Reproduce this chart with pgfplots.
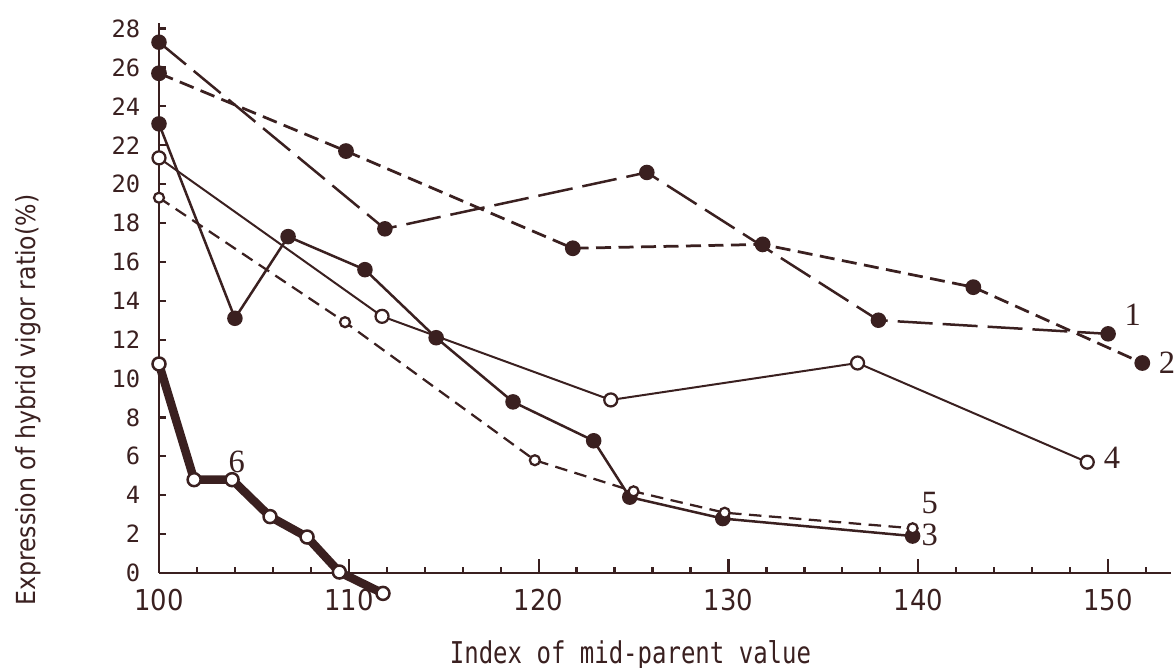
\documentclass[border=0pt]{standalone}
\usepackage{fontspec}
\setmainfont{Liberation Serif}
\newfontfamily\monof{DejaVu Sans Mono}
\newfontfamily\condf{DejaVu Sans Condensed}
\usepackage{pgfplots}
\pgfplotsset{compat=1.18}
\usetikzlibrary{calc}
\definecolor{ink}{RGB}{58,32,32}
\begin{document}
\begin{tikzpicture}
\begin{axis}[
  scale only axis, width=404.7pt, height=220.1pt,
  xmin=100, xmax=153.3, ymin=0, ymax=28.3,
  axis lines=left, axis line style={-, ink, line width=1pt},
  clip=false,
  xtick={100,110,...,150}, minor xtick={102,104,...,152},
  ytick={0,2,...,28},
  tick align=inside,
  tick style={ink, line width=0.9pt},
  major tick length=5.5pt, minor tick length=2.5pt,
  ytick style={/pgfplots/major tick length=3pt},
  /pgf/number format/assume math mode=true,
  xticklabel style={font=\condf\fontsize{11.5}{11.5}\selectfont, text=ink, yshift=-3pt},
  yticklabel style={font=\monof\fontsize{9.5}{9.5}\selectfont, text=ink, xshift=-4pt},
  xlabel={\scalebox{0.8}[1]{Index of mid-parent value}},
  ylabel={Expression of hybrid vigor ratio(\%)},
  xlabel style={font=\monof\fontsize{12}{12}\selectfont, text=ink, at={(axis description cs:0.466,-0.149)}, anchor=center},
  ylabel style={font=\condf\fontsize{10.5}{10.5}\selectfont, text=ink, at={(axis description cs:-0.1296,0.314)}, anchor=center},
]
% series 1: long dashes, filled
\addplot[ink, line width=1pt, dash pattern=on 14pt off 4pt, mark=*, mark size=2.6pt, mark options={solid, fill=ink}]
  coordinates {(100,27.3) (111.9,17.7) (125.7,20.6) (137.9,13.0) (150,12.3)};
% series 2: short dashes, filled
\addplot[ink, line width=1.1pt, dash pattern=on 6pt off 3pt, mark=*, mark size=2.6pt, mark options={solid, fill=ink}]
  coordinates {(100,25.7) (109.85,21.7) (121.8,16.7) (131.8,16.9) (142.9,14.7) (151.8,10.8)};
% series 3: solid, filled
\addplot[ink, line width=1pt, mark=*, mark size=2.6pt, mark options={solid, fill=ink}]
  coordinates {(100,23.1) (104,13.1) (106.8,17.3) (110.85,15.6) (114.6,12.1) (118.65,8.8) (122.9,6.8) (124.8,3.9) (129.7,2.8) (139.7,1.9)};
% series 4: solid, open
\addplot[ink, line width=0.8pt, mark=*, mark size=2.6pt, mark options={solid, fill=white, line width=0.9pt}]
  coordinates {(100,21.35) (111.75,13.2) (123.8,8.9) (136.8,10.8) (148.9,5.7)};
% series 5: dashed, small open
\addplot[ink, line width=0.9pt, dash pattern=on 5pt off 3pt, mark=*, mark size=2pt, mark options={solid, fill=white, line width=0.9pt}]
  coordinates {(100,19.3) (109.8,12.9) (119.8,5.8) (125,4.2) (129.8,3.1) (139.7,2.3)};
% series 6: thick, open
\addplot[ink, line width=3.4pt, mark=*, mark size=2.6pt, mark options={solid, fill=white, line width=1pt}]
  coordinates {(100,10.75) (101.85,4.8) (103.85,4.8) (105.85,2.9) (107.8,1.85) (109.5,0.05) (111.8,-1.05)};
% curve labels
\begin{scope}[every node/.style={font=\fontsize{13}{13}\selectfont, text=ink, anchor=center}]
\node at (axis cs:151.3,13.3) {1};
\node at (axis cs:153.1,10.8) {2};
\node at (axis cs:140.6,1.95) {3};
\node at (axis cs:150.2,5.9) {4};
\node at (axis cs:140.6,3.6) {5};
\node at (axis cs:104.1,5.7) {6};
\end{scope}
\end{axis}
\pgfresetboundingbox
\path[use as bounding box] ($(current axis.south west)+(-63.6pt,-38pt)$) rectangle ($(current axis.south west)+(406.8pt,229.2pt)$);
\end{tikzpicture}
\end{document}
